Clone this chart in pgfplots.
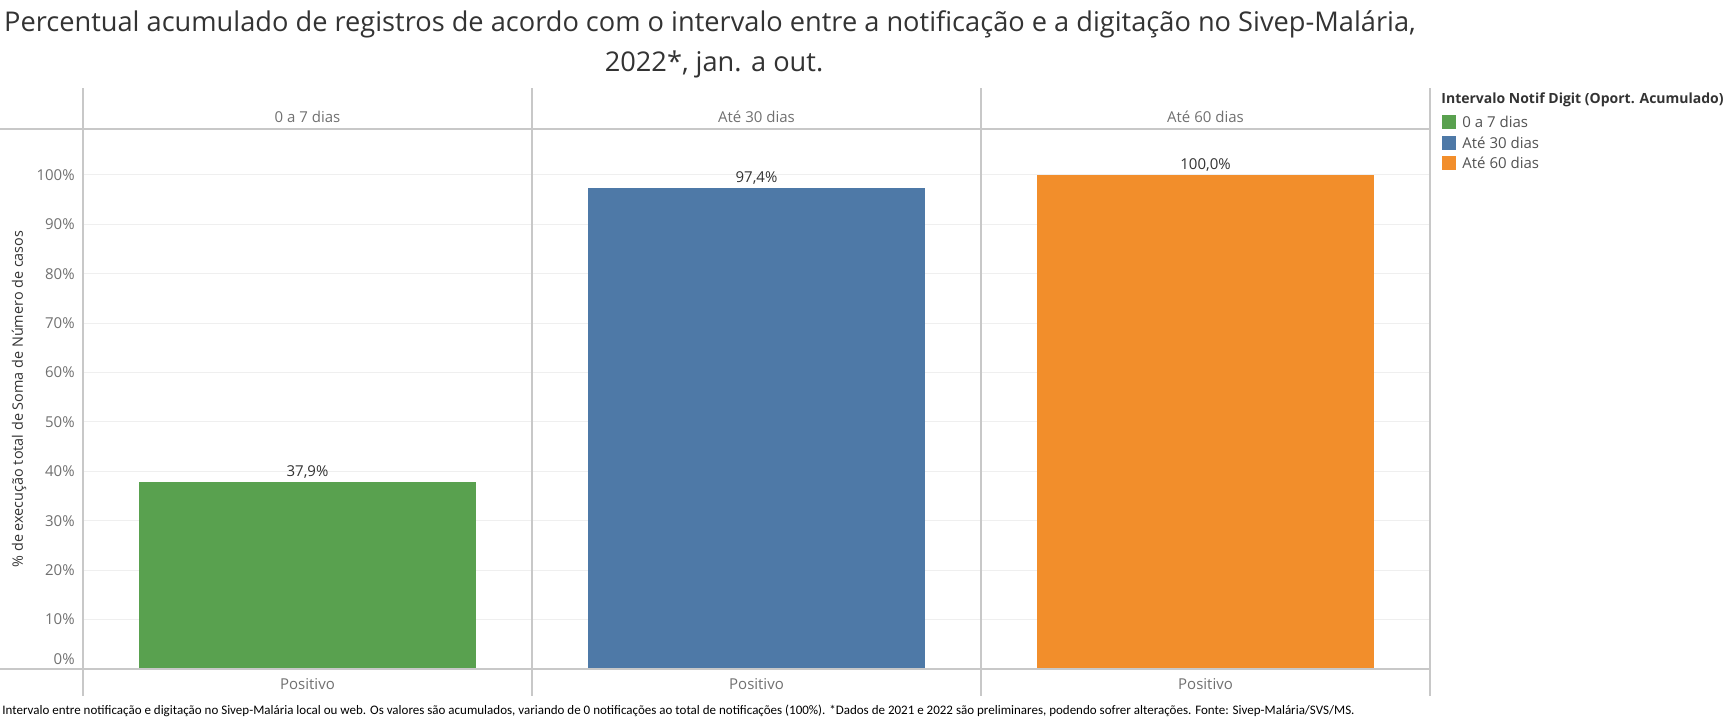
\documentclass[border=0pt]{standalone}
\usepackage{pgfplots}
\pgfplotsset{compat=1.18}
\usepackage{fontspec}
\setmainfont{Open Sans}
\newfontfamily\footfont{Carlito}
\definecolor{cgreen}{HTML}{59A14F}
\definecolor{cblue}{HTML}{4E79A7}
\definecolor{corange}{HTML}{F28E2B}
\definecolor{gridc}{HTML}{EFEFEF}
\definecolor{framec}{HTML}{C8C8C8}
\definecolor{labc}{HTML}{707070}
\definecolor{titc}{HTML}{333333}
\begin{document}
\begin{tikzpicture}
\useasboundingbox (0,0) rectangle (866pt,360pt);
\begin{axis}[
  at={(41.5pt,25.5pt)}, anchor=south west,
  scale only axis, width=673.5pt, height=270pt,
  xmin=-0.5, xmax=2.5, ymin=0, ymax=109.3,
  ytick={10,20,...,100},
  extra y ticks={0},
  extra y tick style={yticklabel style={yshift=5pt}},
  yticklabel={\pgfmathprintnumber{\tick}\%},
  xtick=\empty,
  axis line style={draw=none},
  tick style={draw=none},
  ymajorgrids, major grid style={gridc, line width=0.5pt},
  /pgf/number format/assume math mode=true,
  yticklabel style={font=\fontsize{7.5pt}{9pt}\selectfont, text=labc, inner xsep=4pt},
  ybar, bar width=0.75,
  nodes near coords={\pgfmathprintnumber[fixed,fixed zerofill,precision=1,use comma]{\pgfplotspointmeta}\%},
  nodes near coords style={font=\fontsize{7.5pt}{9pt}\selectfont, text=titc, inner sep=1.5pt},
  clip=false,
]
\addplot[fill=cgreen, draw=none, bar shift=0pt] coordinates {(0,37.9)};
\addplot[fill=cblue, draw=none, bar shift=0pt] coordinates {(1,97.4)};
\addplot[fill=corange, draw=none, bar shift=0pt] coordinates {(2,100.0)};
\end{axis}
\begin{scope}[x=0.5pt, y=-0.5pt, shift={(0,360pt)}]
  % frame lines
  \draw[framec, line width=0.6pt] (0,129) -- (1430,129);
  \draw[framec, line width=0.6pt] (0,669) -- (1430,669);
  \foreach \xx in {83,532,981,1430} {
    \draw[framec, line width=0.6pt] (\xx,88) -- (\xx,696);
  }
  % headers
  \foreach \xx/\lab in {307.5/0 a 7 dias, 756.5/Até 30 dias, 1205.5/Até 60 dias} {
    \node[font=\fontsize{7.5pt}{9pt}\selectfont, text=labc] at (\xx,117) {\lab};
    \node[font=\fontsize{7.5pt}{9pt}\selectfont, text=labc] at (\xx,684) {Positivo};
  }
  % title
  \node[font=\fontsize{13.6pt}{15pt}\selectfont, text=titc] at (710,24) {Percentual acumulado de registros de acordo com o intervalo entre a notificação e a digitação no Sivep-Malária,};
  \node[font=\fontsize{13.6pt}{15pt}\selectfont, text=titc] at (714,64) {2022*, jan. a out.};
  % y label
  \node[font=\fontsize{7.2pt}{9pt}\selectfont, text=titc, rotate=90] at (19,399) {\% de execução total de Soma de Número de casos};
  % legend
  \node[font=\fontsize{7pt}{9pt}\selectfont\bfseries, text=titc, anchor=west, inner sep=0pt] at (1441,100) {Intervalo Notif Digit (Oport. Acumulado)};
  \foreach \yy/\cc/\lab in {122/cgreen/0 a 7 dias, 143/cblue/Até 30 dias, 163/corange/Até 60 dias} {
    \fill[\cc] (1442,\yy-7) rectangle (1456,\yy+7);
    \node[font=\fontsize{7.5pt}{9pt}\selectfont, text=titc!85, anchor=west, inner sep=0pt] at (1462,\yy) {\lab};
  }
  % footer
  \node[font=\footfont\fontsize{6.5pt}{8pt}\selectfont, text=black, anchor=west, inner sep=0pt] at (2,711) {Intervalo entre notificação e digitação no Sivep-Malária local ou web. Os valores são acumulados, variando de 0 notificações ao total de notificações (100\%). *Dados de 2021 e 2022 são preliminares, podendo sofrer alterações. Fonte: Sivep-Malária/SVS/MS.};
\end{scope}
\end{tikzpicture}
\end{document}
